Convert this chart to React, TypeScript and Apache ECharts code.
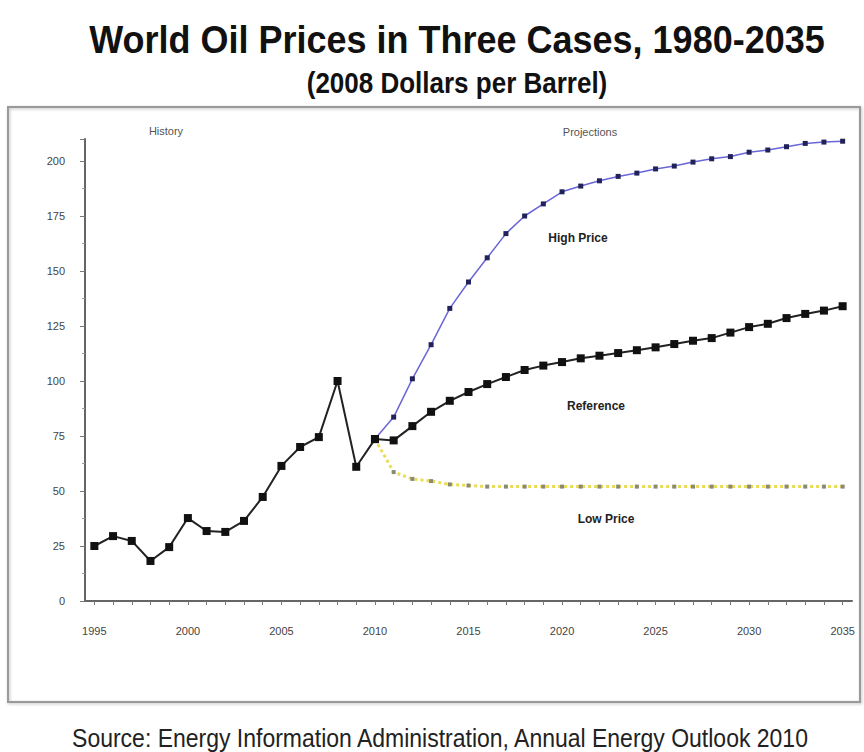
import React, { useEffect, useRef } from "react";
import * as echarts from "echarts";

const years = [
  "1995", "1996", "1997", "1998", "1999", "2000", "2001", "2002", "2003", "2004",
  "2005", "2006", "2007", "2008", "2009", "2010", "2011", "2012", "2013", "2014",
  "2015", "2016", "2017", "2018", "2019", "2020", "2021", "2022", "2023", "2024",
  "2025", "2026", "2027", "2028", "2029", "2030", "2031", "2032", "2033", "2034", "2035",
];

// History 1995-2010
const history = [25, 29.5, 27.3, 18.2, 24.5, 37.7, 31.8, 31.4, 36.4, 47.3, 61.4, 70, 74.5, 100, 61, 73.6];

// Projections 2010-2035
const referenceCase = [
  73.6, 73, 79.5, 86, 91, 95, 98.6, 101.8, 105, 107, 108.6, 110.3, 111.5, 112.7, 114, 115.3,
  116.8, 118.3, 119.5, 122, 124.5, 126, 128.6, 130.5, 132, 134,
];
const highPrice = [
  73.6, 83.6, 101, 116.5, 133, 145, 156, 167, 175, 180.5, 186, 188.6, 191, 193, 194.5, 196.4,
  197.7, 199.5, 201, 202, 204, 205, 206.5, 208, 208.6, 209,
];
const lowPrice = [
  73.6, 58.6, 55.5, 54.5, 53, 52.5, 52, 52, 52, 52, 52, 52, 52, 52, 52, 52,
  52, 52, 52, 52, 52, 52, 52, 52, 52, 52,
];

const yTicks = { min: 0, max: 210, interval: 25 };

const projStart = years.indexOf("2010");
const padHistory = (arr: number[]) => [...arr, ...years.slice(arr.length).map(() => null)];
const padProj = (arr: number[]) => [...years.slice(0, projStart).map(() => null), ...arr];

export default function App() {
  const ref = useRef<HTMLDivElement>(null);
  useEffect(() => {
    document.body.style.margin = "0";
    const chart = echarts.init(ref.current!, undefined, { renderer: "svg" });
    const labelFont = "Liberation Sans, Arial, sans-serif";
    chart.setOption({
      animation: false,
      backgroundColor: "#ffffff",
      grid: { left: 85, right: 12, top: 139, bottom: 151 },
      xAxis: {
        type: "category",
        data: years,
        boundaryGap: true,
        axisLine: { lineStyle: { color: "#666", width: 2 } },
        axisTick: { show: true, interval: 0, alignWithLabel: true, length: 4, lineStyle: { color: "#777" } },
        axisLabel: { interval: 4, color: "#444", fontSize: 11, fontFamily: labelFont, margin: 24 },
        splitLine: { show: false },
      },
      yAxis: {
        type: "value",
        min: yTicks.min,
        max: yTicks.max,
        interval: yTicks.interval,
        axisLine: { show: true, lineStyle: { color: "#666", width: 2 } },
        axisTick: { show: true, length: 5, lineStyle: { color: "#777" } },
        minorTick: { show: true, splitNumber: 2, length: 3, lineStyle: { color: "#999" } },
        axisLabel: { color: "#444", fontSize: 11, fontFamily: labelFont, margin: 20, showMaxLabel: false },
        splitLine: { show: false },
      },
      series: [
        {
          name: "Low Price",
          type: "line",
          data: padProj(lowPrice),
          symbol: "rect",
          symbolSize: 4,
          itemStyle: { color: "#8a8a70" },
          lineStyle: { color: "#eadd55", width: 3, type: "dotted" },
          z: 2,
        },
        {
          name: "High Price",
          type: "line",
          data: padProj(highPrice),
          symbol: "rect",
          symbolSize: 5,
          itemStyle: { color: "#22225a" },
          lineStyle: { color: "#6b66d8", width: 1.5 },
          z: 3,
        },
        {
          name: "Reference",
          type: "line",
          data: padProj(referenceCase),
          symbol: "rect",
          symbolSize: 8,
          itemStyle: { color: "#111" },
          lineStyle: { color: "#222", width: 2 },
          z: 4,
        },
        {
          name: "History",
          type: "line",
          data: padHistory(history),
          symbol: "rect",
          symbolSize: 8,
          itemStyle: { color: "#111" },
          lineStyle: { color: "#222", width: 2 },
          z: 5,
        },
      ],
      graphic: [
        {
          type: "rect",
          shape: { x: 8, y: 107, width: 852, height: 595 },
          style: { fill: "none", stroke: "#9a9a9a", lineWidth: 2, shadowBlur: 3, shadowColor: "rgba(0,0,0,0.25)", shadowOffsetX: 1, shadowOffsetY: 1 },
          z: -1,
        },
        {
          type: "text",
          x: 457,
          y: 39,
          scaleY: 1.1,
          style: { text: "World Oil Prices in Three Cases, 1980-2035", fill: "#111", font: "bold 36px Liberation Sans, Arial, sans-serif", textAlign: "center", textVerticalAlign: "middle" },
        },
        {
          type: "text",
          x: 457,
          y: 83,
          scaleY: 1.1,
          style: { text: "(2008 Dollars per Barrel)", fill: "#111", font: "bold 26px Liberation Sans, Arial, sans-serif", textAlign: "center", textVerticalAlign: "middle" },
        },
        {
          type: "text",
          x: 440,
          y: 738,
          scaleY: 1.15,
          style: { text: "Source: Energy Information Administration, Annual Energy Outlook 2010", fill: "#222", font: "23px Liberation Sans, Arial, sans-serif", textAlign: "center", textVerticalAlign: "middle" },
        },
        {
          type: "text",
          x: 166,
          y: 131,
          style: { text: "History", fill: "#555", font: "11px Liberation Sans, Arial, sans-serif", textAlign: "center", textVerticalAlign: "middle" },
        },
        {
          type: "text",
          x: 590,
          y: 132,
          style: { text: "Projections", fill: "#555", font: "11px Liberation Sans, Arial, sans-serif", textAlign: "center", textVerticalAlign: "middle" },
        },
        {
          type: "text",
          x: 578,
          y: 238,
          style: { text: "High Price", fill: "#222", font: "bold 12px Liberation Sans, Arial, sans-serif", textAlign: "center", textVerticalAlign: "middle" },
        },
        {
          type: "text",
          x: 596,
          y: 406,
          style: { text: "Reference", fill: "#222", font: "bold 12px Liberation Sans, Arial, sans-serif", textAlign: "center", textVerticalAlign: "middle" },
        },
        {
          type: "text",
          x: 606,
          y: 519,
          style: { text: "Low Price", fill: "#222", font: "bold 12px Liberation Sans, Arial, sans-serif", textAlign: "center", textVerticalAlign: "middle" },
        },
      ],
    });
    return () => chart.dispose();
  }, []);
  return <div ref={ref} style={{ width: 864, height: 752 }} />;
}
